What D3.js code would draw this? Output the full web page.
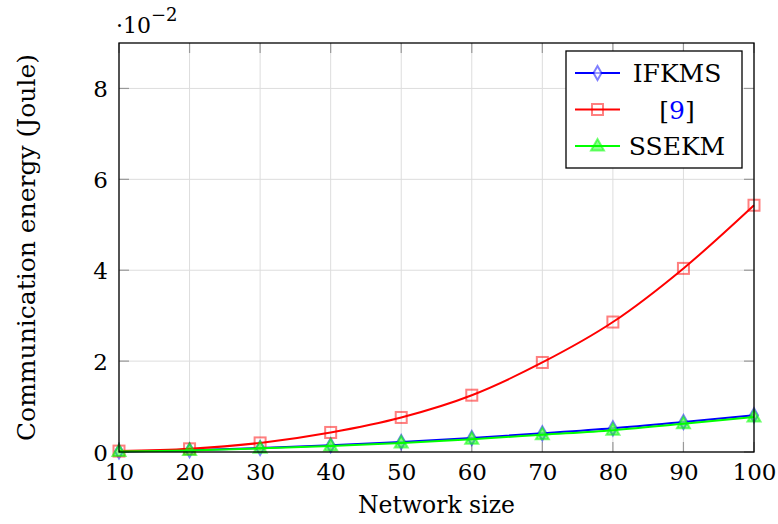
<!DOCTYPE html>
<html>
<head>
<meta charset="utf-8">
<script src="https://cdn.jsdelivr.net/npm/d3@7"></script>
<style>
  body { margin: 0; background: #fff; }
  svg text { font-family: "DejaVu Serif", serif; fill: #000; }
</style>
</head>
<body>
<svg id="chart" width="778" height="524"></svg>
<script>
// Network size (x) and communication energy in units of 1e-2 Joule
const sizes = [10, 20, 30, 40, 50, 60, 70, 80, 90, 100];
const ifkms = [0.01, 0.04, 0.09, 0.15, 0.22, 0.31, 0.41, 0.52, 0.66, 0.81];
const ref9  = [0.02, 0.07, 0.2, 0.43, 0.76, 1.25, 1.97, 2.86, 4.04, 5.43];
const ssekm = [0.01, 0.035, 0.08, 0.13, 0.2, 0.28, 0.38, 0.48, 0.62, 0.77];
const yTicks = [0, 2, 4, 6, 8];

const series = [
  { name: 'IFKMS', values: ifkms, color: '#0000ff', mark: 'diamond' },
  { name: '[9]',   values: ref9,  color: '#ff0000', mark: 'square' },
  { name: 'SSEKM', values: ssekm, color: '#00ff00', mark: 'triangle' }
];

const FONT = '"DejaVu Serif", serif';
const svg = d3.select('#chart');
const m = { left: 119, right: 754, top: 43, bottom: 452 };

const x = d3.scaleLinear().domain([10, 100]).range([m.left, m.right]);
const y = d3.scaleLinear().domain([0, 9]).range([m.bottom, m.top]);

// grid
const grid = svg.append('g').attr('stroke', '#dddddd').attr('stroke-width', 1);
sizes.forEach(v => grid.append('line')
  .attr('x1', x(v)).attr('x2', x(v)).attr('y1', m.top).attr('y2', m.bottom));
yTicks.forEach(v => grid.append('line')
  .attr('x1', m.left).attr('x2', m.right).attr('y1', y(v)).attr('y2', y(v)));

// inner ticks on all sides
const ticks = svg.append('g').attr('stroke', '#999').attr('stroke-width', 1.2);
sizes.forEach(v => {
  ticks.append('line').attr('x1', x(v)).attr('x2', x(v)).attr('y1', m.bottom).attr('y2', m.bottom - 10);
  ticks.append('line').attr('x1', x(v)).attr('x2', x(v)).attr('y1', m.top).attr('y2', m.top + 10);
});
yTicks.forEach(v => {
  ticks.append('line').attr('x1', m.left).attr('x2', m.left + 10).attr('y1', y(v)).attr('y2', y(v));
  ticks.append('line').attr('x1', m.right).attr('x2', m.right - 10).attr('y1', y(v)).attr('y2', y(v));
});

// tick labels via d3 axes (axis lines hidden)
const xAxis = svg.append('g').attr('transform', `translate(0,${m.bottom})`)
  .call(d3.axisBottom(x).tickValues(sizes).tickSize(0).tickPadding(10));
const yAxis = svg.append('g').attr('transform', `translate(${m.left},0)`)
  .call(d3.axisLeft(y).tickValues(yTicks).tickSize(0).tickPadding(11));
[xAxis, yAxis].forEach(a => {
  a.attr('font-family', FONT).attr('font-size', 23);
  a.select('.domain').remove();
  a.selectAll('text').attr('fill', '#000');
});
xAxis.selectAll('text').attr('dy', '0.78em');
yAxis.selectAll('text').attr('dy', '0.36em');

// lines
const line = d3.line().curve(d3.curveCatmullRom.alpha(0))
  .x((d, i) => x(sizes[i])).y(d => y(d));

function drawMark(g, type, cx, cy, color) {
  if (type === 'square') {
    g.append('rect').attr('x', cx - 5.5).attr('y', cy - 5.5).attr('width', 11).attr('height', 11)
      .attr('fill', 'none').attr('stroke', color).attr('stroke-opacity', 0.5).attr('stroke-width', 2);
  } else if (type === 'diamond') {
    g.append('path').attr('d', `M${cx},${cy - 7}L${cx + 4},${cy}L${cx},${cy + 7}L${cx - 4},${cy}Z`)
      .attr('fill', '#fff').attr('fill-opacity', 0.6)
      .attr('stroke', color).attr('stroke-opacity', 0.5).attr('stroke-width', 2);
  } else {
    g.append('path').attr('d', `M${cx},${cy - 7}L${cx + 6.5},${cy + 4.5}L${cx - 6.5},${cy + 4.5}Z`)
      .attr('fill', color).attr('fill-opacity', 0.45)
      .attr('stroke', color).attr('stroke-opacity', 0.55).attr('stroke-width', 2);
  }
}

series.forEach(s => {
  svg.append('path').datum(s.values)
    .attr('d', line).attr('fill', 'none').attr('stroke', s.color).attr('stroke-width', 2);
  s.values.forEach((v, i) => drawMark(svg, s.mark, x(sizes[i]), y(v), s.color));
});

// frame
svg.append('rect').attr('x', m.left).attr('y', m.top)
  .attr('width', m.right - m.left).attr('height', m.bottom - m.top)
  .attr('fill', 'none').attr('stroke', '#000').attr('stroke-width', 1.3);

// legend
const lg = svg.append('g').attr('font-family', FONT);
lg.append('rect').attr('x', 566).attr('y', 51).attr('width', 176).attr('height', 117)
  .attr('fill', '#fff').attr('stroke', '#000').attr('stroke-width', 1.3);
series.forEach((s, i) => {
  const cy = 73 + i * 36.5;
  lg.append('line').attr('x1', 575).attr('x2', 620).attr('y1', cy).attr('y2', cy)
    .attr('stroke', s.color).attr('stroke-width', 2);
  drawMark(lg, s.mark, 597.5, cy, s.color);
  const t = lg.append('text').attr('x', 677).attr('y', cy).attr('dy', '0.36em')
    .attr('text-anchor', 'middle').attr('font-size', 25);
  if (s.name === '[9]') {
    t.append('tspan').text('[');
    t.append('tspan').style('fill', '#0000ff').text('9');
    t.append('tspan').text(']');
  } else {
    t.text(s.name);
  }
});

// scale factor label
const sf = svg.append('text').attr('x', 116).attr('y', 33).attr('font-size', 22).attr('font-family', FONT);
sf.append('tspan').text('·10');
sf.append('tspan').attr('dy', -12).attr('font-size', 18).text('−2');

// axis titles
svg.append('text').attr('x', (m.left + m.right) / 2).attr('y', 513)
  .attr('text-anchor', 'middle').attr('font-size', 23.5).attr('font-family', FONT).text('Network size');
svg.append('text').attr('transform', `translate(35,${(m.top + m.bottom) / 2}) rotate(-90)`)
  .attr('text-anchor', 'middle').attr('font-size', 25).attr('font-family', FONT)
  .text('Communication energy (Joule)');
</script>
</body>
</html>
